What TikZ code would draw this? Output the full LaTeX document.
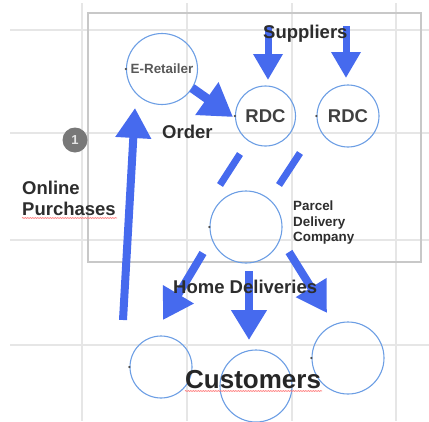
\documentclass[tikz,border=0pt]{standalone}
\usepackage{fontspec}
\setmainfont{Liberation Sans}
\usetikzlibrary{arrows.meta,decorations.pathmorphing}
\definecolor{arrowblue}{RGB}{70,106,238}
\definecolor{ringblue}{RGB}{108,158,228}
\definecolor{gridgray}{RGB}{230,230,230}
\definecolor{boxgray}{RGB}{200,200,200}
\definecolor{txt}{RGB}{45,45,45}
\definecolor{badge}{RGB}{120,120,120}
\begin{document}
\begin{tikzpicture}[x=1pt,y=-1pt,
  ring/.style={circle,draw=ringblue,line width=1.1pt,inner sep=0pt},
  bigarrow/.style={draw=arrowblue,line width=8pt,-{Triangle[width=34pt,length=30pt]}},
  smallarrow/.style={draw=arrowblue,line width=7pt,-{Triangle[width=28pt,length=26pt]}},
  dashseg/.style={draw=arrowblue,line width=7pt,line cap=butt},
  lbl/.style={anchor=base west,inner sep=0pt,text=txt,font=\bfseries\fontsize{18.5}{20}\selectfont},
  small/.style={inner sep=0pt,text=txt,font=\bfseries\fontsize{13.4}{15.5}\selectfont},
  pin/.style={circle,fill=black!70,inner sep=0pt,minimum size=2.5pt},
  spell/.style={draw=red!55,line width=0.6pt,decorate,decoration={snake,amplitude=0.5pt,segment length=2.5pt}},
  gridline/.style={draw=gridgray,line width=1.3pt}]
\useasboundingbox (0,0) rectangle (429,421);
% grid
\foreach \gx in {82,187,292,396} \draw[gridline] (\gx,3) -- (\gx,421);
\foreach \gy in {30,133,240,345} \draw[gridline] (10,\gy) -- (429,\gy);
% box
\draw[boxgray,line width=1.4pt] (88,13) rectangle (421,262);
% circles
\node[ring,minimum size=71pt,font=\bfseries\fontsize{13.4}{15}\selectfont,text=black!65] (eret) at (162,69) {E-Retailer};
\node[ring,minimum size=60pt,font=\bfseries\fontsize{18.5}{20}\selectfont,text=black!75] (rdc1) at (265.5,116) {RDC};
\node[ring,minimum size=62pt,font=\bfseries\fontsize{18.5}{20}\selectfont,text=black!75] (rdc2) at (348,116) {RDC};
\node[ring,minimum size=72pt] (pdc) at (246,227) {};
\node[ring,minimum size=62pt] (c1) at (161,367) {};
\node[ring,minimum size=72pt] (c3) at (348,358) {};
\node[ring,minimum size=72pt] (c2) at (256,386) {};
% connection dots
\foreach \n in {eret,rdc1,rdc2,pdc,c1,c3} \node[pin] at (\n.west) {};
% arrow end points
\coordinate (op1) at (123,320); \coordinate (op2) at (135,108);
\coordinate (er1) at (192,88);  \coordinate (er2) at (233,117);
\coordinate (s1a) at (268,26);  \coordinate (s1b) at (268,80);
\coordinate (s2a) at (346,26);  \coordinate (s2b) at (346,78);
\coordinate (d1a) at (240,154); \coordinate (d1b) at (220,185);
\coordinate (d2a) at (300,153); \coordinate (d2b) at (279,185);
\coordinate (h1a) at (203,253); \coordinate (h1b) at (163,320);
\coordinate (h2a) at (249,271); \coordinate (h2b) at (249,340);
\coordinate (h3a) at (289,252); \coordinate (h3b) at (327,313);
% arrows
\draw[bigarrow] (op1) -- (op2);
\draw[bigarrow,line width=9pt,-{Triangle[width=38pt,length=32pt]}] (er1) -- (er2);
\draw[smallarrow] (s1a) -- (s1b);
\draw[smallarrow] (s2a) -- (s2b);
\draw[dashseg] (d1a) -- (d1b);
\draw[dashseg] (d2a) -- (d2b);
\draw[bigarrow] (h1a) -- (h1b);
\draw[bigarrow] (h2a) -- (h2b);
\draw[bigarrow] (h3a) -- (h3b);
% labels
\node[lbl] (sup) at (263,38) {Suppliers};
\node[lbl] (ord) at (162,138) {Order};
\node[lbl] (onl) at (22,194) {Online};
\node[lbl] (pur) at (22,215) {Purchases};
\node[lbl] (home) at (173,293) {Home Deliveries};
\node[anchor=base west,inner sep=0pt,text=black!85,font=\bfseries\fontsize{26}{28}\selectfont] (cust) at (185,388) {Customers};
\node[small,anchor=north west,align=left] (pdt) at (293,201) {Parcel\\Delivery\\Company};
% spell-check underlines
\draw[spell] (pur.base west) ++(0,3) -- ++(95,0);
\draw[spell] (cust.base west) ++(0,3) -- ++(137,0);
% badge
\node[circle,fill=badge,minimum size=25pt,inner sep=0pt,text=white!90!black,font=\bfseries\fontsize{13}{14}\selectfont] (one) at (75,140) {1};
\end{tikzpicture}
\end{document}
